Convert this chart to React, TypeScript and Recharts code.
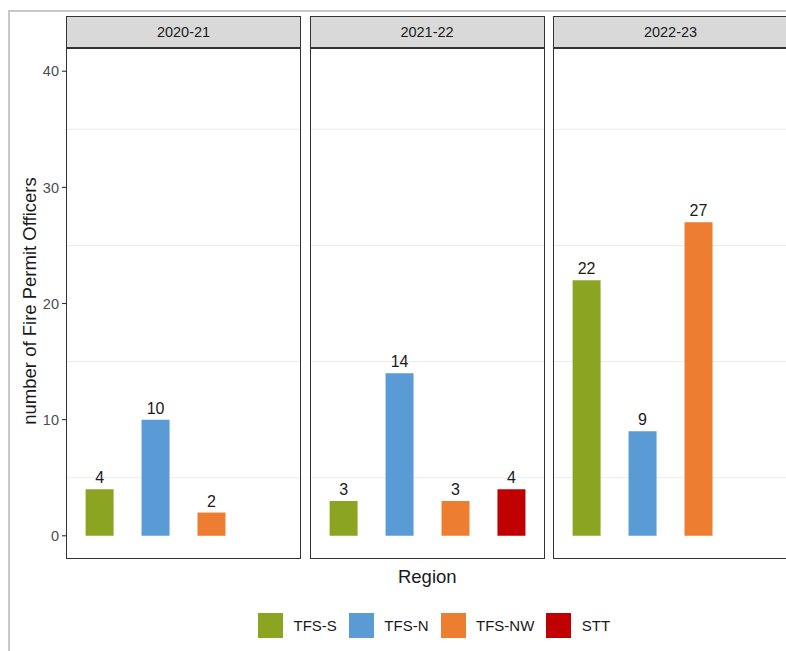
import React from "react";
import { BarChart, Bar, XAxis, YAxis, Cell, LabelList, ReferenceLine } from "recharts";

const panels = ["2020-21", "2021-22", "2022-23"];
const regions = ["TFS-S", "TFS-N", "TFS-NW", "STT"];
const tfsS = [4, 3, 22];
const tfsN = [10, 14, 9];
const tfsNW = [2, 3, 27];
const stt: (number | null)[] = [null, 4, null];
const seriesByRegion: (number | null)[][] = [tfsS, tfsN, tfsNW, stt];
const regionColors = ["#8BA523", "#5B9BD5", "#ED7D31", "#C00000"];
const yTicks = [0, 10, 20, 30, 40];
const minorGrid = [5, 15, 25, 35];
const yDomain = [-2, 42];

const FONT = "'Liberation Sans', Arial, sans-serif";
const PANEL_W = 235;
const PANEL_H = 511;
const AXIS_W = 58;
const PLOT_TOP = 39.7;
const STRIP_TOP = 7.7;
const STRIP_H = 32;
const panelLefts = [58, 301.5, 545];

function panelData(p: number) {
  return regions.map((r, i) => ({ region: r, value: seriesByRegion[i][p] }));
}

function Panel({ p }: { p: number }) {
  const showAxis = p === 0;
  const left = panelLefts[p] - (showAxis ? AXIS_W : 0);
  const width = PANEL_W + (showAxis ? AXIS_W : 0);
  const data = panelData(p);
  return (
    <>
      <div
        style={{
          position: "absolute",
          left: panelLefts[p],
          top: STRIP_TOP,
          width: PANEL_W,
          height: STRIP_H,
          boxSizing: "border-box",
          border: "1.3px solid #333333",
          background: "#d9d9d9",
          color: "#1a1a1a",
          fontSize: 14.5,
          display: "flex",
          alignItems: "center",
          justifyContent: "center",
        }}
      >
        {panels[p]}
      </div>
      <div style={{ position: "absolute", left, top: PLOT_TOP }}>
        <BarChart width={width} height={PANEL_H} data={data} margin={{ top: 0, right: 0, bottom: 0, left: 0 }}>
          <XAxis dataKey="region" type="category" hide padding={{ left: 5.6, right: 5.6 }} />
          <YAxis
            type="number"
            domain={yDomain}
            allowDataOverflow
            ticks={yTicks}
            hide={!showAxis}
            width={AXIS_W}
            axisLine={false}
            tickSize={4}
            tickMargin={3}
            tickLine={{ stroke: "#333333", strokeWidth: 1.1 }}
            tick={{ fill: "#4d4d4d", fontSize: 14.5 }}
          />
          {minorGrid.map((v) => (
            <ReferenceLine key={v} y={v} stroke="#ebebeb" strokeWidth={1.1} zIndex={-10} />
          ))}
          <Bar dataKey="value" barSize={28} isAnimationActive={false}>
            {data.map((d, i) => (
              <Cell key={d.region} fill={regionColors[i]} />
            ))}
            <LabelList dataKey="value" position="top" offset={6} fill="#1a1a1a" fontSize={16} />
          </Bar>
        </BarChart>
      </div>
      <div
        style={{
          position: "absolute",
          left: panelLefts[p],
          top: PLOT_TOP,
          width: PANEL_W,
          height: PANEL_H,
          boxSizing: "border-box",
          border: "1.3px solid #333333",
          pointerEvents: "none",
        }}
      />
    </>
  );
}

export default function App() {
  return (
    <div
      style={{
        position: "fixed",
        left: 8,
        top: 8,
        width: 778,
        height: 643,
        overflow: "hidden",
        background: "#ffffff",
        fontFamily: FONT,
      }}
    >
      <div
        style={{
          position: "absolute",
          left: 0,
          top: 2,
          width: 900,
          height: 800,
          border: "2px solid #c8c8c8",
        }}
      />
      {panels.map((_, p) => (
        <Panel key={p} p={p} />
      ))}
      <svg width={778} height={643} style={{ position: "absolute", left: 0, top: 0, pointerEvents: "none" }}>
        <text x={419.3} y={575.3} textAnchor="middle" fontSize={18.5} fill="#1a1a1a">
          Region
        </text>
        <text x={28} y={293} textAnchor="middle" fontSize={18.5} fill="#1a1a1a" transform="rotate(-90, 28, 293)">
          number of Fire Permit Officers
        </text>
      </svg>
      <div
        style={{
          position: "absolute",
          left: 250,
          top: 605,
          display: "flex",
          alignItems: "center",
          fontSize: 15,
          color: "#1a1a1a",
        }}
      >
        {regions.map((r, i) => (
          <div key={r} style={{ display: "flex", alignItems: "center", marginRight: 12 }}>
            <div style={{ width: 25, height: 25, background: regionColors[i], marginRight: 10.5 }} />
            <span>{r}</span>
          </div>
        ))}
      </div>
    </div>
  );
}
